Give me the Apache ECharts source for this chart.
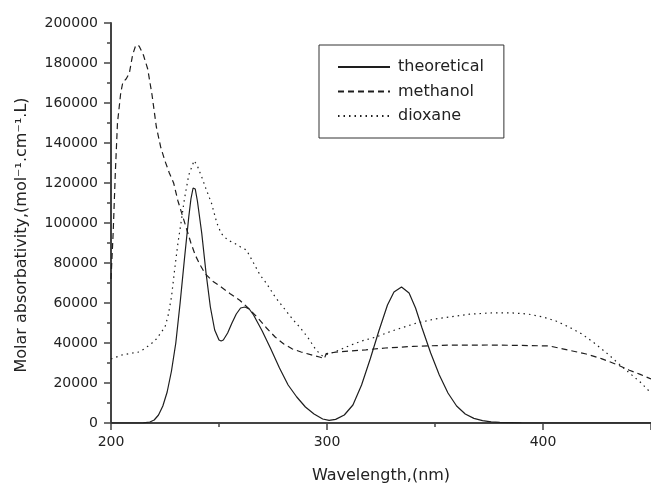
<!DOCTYPE html>
<html>
<head>
<meta charset="utf-8">
<script src="https://cdn.jsdelivr.net/npm/echarts@6/dist/echarts.min.js"></script>
<style>
  html, body { margin: 0; padding: 0; background: #fff; }
  #myChart { width: 651px; height: 485px; }
</style>
</head>
<body>
<div id="myChart"></div>
<script>
// 数据: wavelength (nm) / molar absorbativity
let theoWl = [200, 210, 215, 218, 220, 222, 224, 226, 228, 230, 232, 234, 236, 237, 238, 239, 240, 242, 244, 246, 248, 250, 251, 252, 254, 256, 258, 260, 262, 264, 266, 268, 270, 274, 278, 282, 286, 290, 294, 298, 301, 304, 308, 312, 316, 320, 324, 328, 331, 334.5, 338, 341, 344, 348, 352, 356, 360, 364, 368, 372, 376, 380, 390, 400, 450];
let theoVal = [0, 0, 100, 500, 1500, 4000, 8500, 15500, 26000, 40000, 60000, 82000, 103000, 112000, 117500, 117000, 111000, 95000, 75000, 58000, 46500, 41500, 41000, 41500, 45000, 50000, 54500, 57500, 58000, 57000, 54000, 50000, 46000, 37000, 27500, 19000, 13000, 8000, 4500, 2000, 1300, 1800, 4000, 9000, 19000, 32000, 46000, 59000, 65500, 68000, 65000, 57500, 47500, 35000, 24000, 15000, 8500, 4500, 2300, 1200, 600, 300, 100, 0, 0];

let methWl = [200, 201, 202, 203, 204.5, 205.5, 207, 208.5, 210, 211.5, 213, 215, 217, 219, 221, 223, 225, 227, 229, 231, 233, 235, 237, 239, 241, 243.5, 247, 251, 255, 259.6, 264, 268, 272, 276, 280, 284, 288, 292, 296.5, 298.8, 299.6, 304, 318, 327, 340, 356, 375, 390, 403, 412, 420, 427, 434, 440, 445, 450];
let methVal = [72000, 95000, 125000, 150000, 165000, 170500, 172000, 175000, 184000, 189000, 188500, 184000, 177000, 164000, 148000, 138000, 131000, 125000, 120000, 111000, 104000, 97000, 90000, 84000, 79500, 74800, 71000, 68000, 64800, 61400, 57000, 52500, 47500, 43000, 39500, 37000, 35500, 34300, 33000, 32200, 34700, 35400, 36600, 37500, 38300, 38900, 39000, 38800, 38500, 36400, 34500, 32200, 29300, 26400, 24300, 22000];

let dioxWl = [200, 205, 210, 213, 216, 219, 221, 223, 225, 226.5, 228, 229.6, 231, 232.6, 234, 236, 238.5, 240, 242, 244, 246.5, 249, 251, 254, 257.3, 260, 262.7, 266, 269, 272, 276, 280, 284, 287.3, 291, 295, 298, 301, 303.5, 310, 316, 322.7, 330, 341, 350, 356.6, 366, 375, 385, 393, 400, 406, 412, 418, 424, 430, 435, 440, 445, 450];
let dioxVal = [32000, 34000, 35000, 35500, 37500, 40000, 42000, 45000, 48000, 54000, 63000, 78000, 90000, 101500, 112000, 124000, 131200, 128500, 123000, 117000, 110000, 100000, 94800, 91500, 89800, 88000, 86500, 80000, 74000, 69800, 63000, 57500, 52000, 48000, 43000, 36400, 33400, 34700, 35500, 38500, 41000, 43000, 46000, 49800, 52000, 53000, 54400, 55000, 55100, 54500, 53000, 51000, 48000, 44500, 39800, 34500, 29700, 25000, 20500, 15000];

let seriesNames = ["theoretical", "methanol", "dioxane"];
let xTicks = { min: 200, max: 450, interval: 100 };
let yTicks = { min: 0, max: 200000, interval: 20000 };

function pairs(xs, ys) {
  return xs.map((x, i) => [x, ys[i]]);
}

let font = "DejaVu Sans";
let ink = "#1e1e1e";
let axisColor = "#444";

let myChart = echarts.init(document.getElementById("myChart"));
let option = {
  animation: false,
  backgroundColor: "#fff",
  textStyle: { fontFamily: font, color: "#222" },
  grid: {
    left: 111,
    right: 0,
    top: 23,
    bottom: 62,
    outerBoundsMode: "none"
  },
  legend: {
    data: seriesNames,
    orient: "vertical",
    left: 319,
    top: 45,
    itemWidth: 52,
    itemHeight: 14,
    itemGap: 6.5,
    padding: [13, 20, 13, 18],
    borderColor: "#333",
    borderWidth: 1,
    // only the line sample, no marker
    itemStyle: { opacity: 0 },
    textStyle: { fontSize: 16, color: "#222", fontFamily: font, padding: [0, 0, 0, 3], lineHeight: 18 }
  },
  xAxis: {
    type: "value",
    min: xTicks.min,
    max: xTicks.max,
    interval: xTicks.interval,
    name: "Wavelength,(nm)",
    nameLocation: "middle",
    nameGap: 45,
    nameTextStyle: { fontSize: 16, color: "#222", fontFamily: font },
    axisLine: { lineStyle: { color: axisColor, width: 2 } },
    axisTick: { length: 7, lineStyle: { color: axisColor, width: 1.5 } },
    minorTick: { show: true, splitNumber: 2, length: 4, lineStyle: { color: axisColor, width: 1.5 } },
    axisLabel: { fontSize: 14, color: "#222", margin: 12, showMaxLabel: false, formatter: v => String(v) },
    splitLine: { show: false }
  },
  yAxis: {
    type: "value",
    min: yTicks.min,
    max: yTicks.max,
    interval: yTicks.interval,
    name: "Molar absorbativity,(mol\u207B\u00B9.cm\u207B\u00B9.L)",
    nameLocation: "middle",
    nameGap: 81,
    nameTextStyle: { fontSize: 16, color: "#222", fontFamily: font, padding: [0, 24, 0, 0] },
    axisLine: { show: true, lineStyle: { color: axisColor, width: 2 } },
    axisTick: { show: true, length: 7, lineStyle: { color: axisColor, width: 1.5 } },
    minorTick: { show: true, splitNumber: 2, length: 4, lineStyle: { color: axisColor, width: 1.5 } },
    axisLabel: { fontSize: 14, color: "#222", margin: 13, formatter: v => String(v) },
    splitLine: { show: false }
  },
  series: [
    {
      name: seriesNames[0],
      type: "line",
      showSymbol: false,
      symbol: "none",
      data: pairs(theoWl, theoVal),
      lineStyle: { color: ink, width: 1.2, type: "solid" },
      itemStyle: { color: ink }
    },
    {
      name: seriesNames[1],
      type: "line",
      showSymbol: false,
      symbol: "none",
      data: pairs(methWl, methVal),
      lineStyle: { color: ink, width: 1.2, type: [6, 4] },
      itemStyle: { color: ink }
    },
    {
      name: seriesNames[2],
      type: "line",
      showSymbol: false,
      symbol: "none",
      data: pairs(dioxWl, dioxVal),
      lineStyle: { color: ink, width: 1.2, type: [1.5, 4] },
      itemStyle: { color: ink }
    }
  ]
};
myChart.setOption(option);
</script>
</body>
</html>
